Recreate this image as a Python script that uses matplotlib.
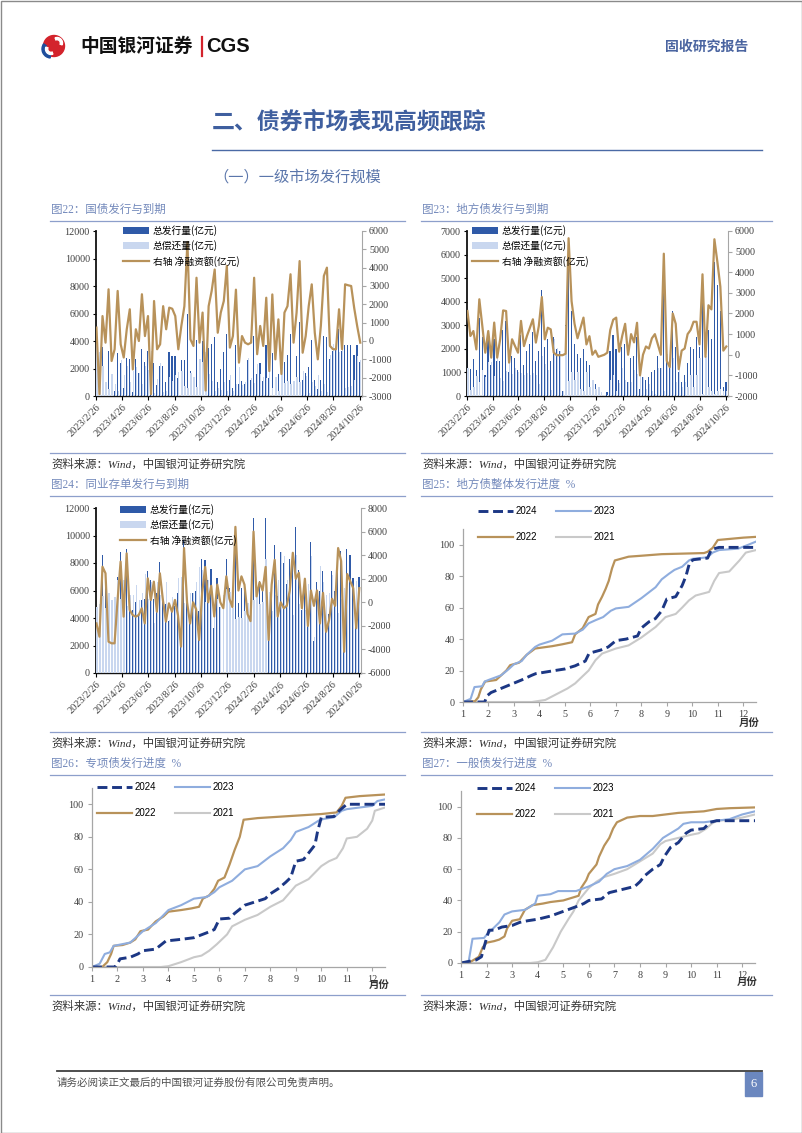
import matplotlib
matplotlib.use("Agg")
import pandas as pd
import matplotlib.pyplot as plt
from matplotlib.patches import Rectangle, Circle, Wedge

W, H = 802, 1133
CJK = ["Noto Sans CJK SC", "DejaVu Sans"]
SERIF = ["Liberation Serif", "Noto Sans CJK SC", "DejaVu Sans"]
SANS = ["Liberation Sans", "Noto Sans CJK SC"]

plt.rcParams["font.family"] = SERIF
plt.rcParams["axes.unicode_minus"] = False

BLUE_DARK = "#2f5aa8"
BLUE_LIGHT = "#c9d7ef"
GOLD = "#b8925a"
NAVY = "#1c3784"
SKY = "#8fadde"
GREY = "#c9c9c9"
TITLE_C = "#7389bb"
RULE_C = "#8d9fcb"
AXIS_C = "#404040"

# ---- 周度数据 (2023/2/26 起, 每周一个点) ----
START = "2023-02-26"
TICK_DATES = ["2023/2/26", "2023/4/26", "2023/6/26", "2023/8/26", "2023/10/26",
              "2023/12/26", "2024/2/26", "2024/4/26", "2024/6/26", "2024/8/26",
              "2024/10/26"]

# 图22 国债
ISS22 = [4900, 300, 3600, 900, 3300, 500, 400, 3100, 2400, 600,
         2800, 2700, 300, 2700, 1700, 3400, 2500, 3300, 400, 2400,
         800, 2200, 2200, 1000, 3200, 2900, 2900, 1300, 2600, 2600,
         6000, 1800, 1100, 4100, 2600, 4000, 500, 3500, 3800, 4300,
         1000, 2000, 3200, 4500, 1200, 600, 3700, 900, 1100, 900,
         2600, 1200, 4400, 1600, 2400, 1100, 3700, 1300, 3100, 400,
         1600, 300, 2500, 3000, 4500, 1000, 2900, 5400, 1200, 1700,
         2100, 4100, 1200, 500, 1200, 4400, 4300, 2700, 3300, 3400,
         4900, 3300, 3700, 3700, 3700, 3000, 3700, 2500]
REP22 = [4100, 3200, 2200, 1000, 500, 1600, 900, 400, 2600, 1500,
         2200, 1000, 1800, 2100, 1700, 850, 2200, 1900, 3300, 200,
         1250, 2400, 300, 400, 1400, 1100, 1500, 1750, 1800, 700,
         600, 1700, 1400, 650, 2700, 2450, 3200, 1600, 1100, 400,
         550, 450, 1000, 400, 1560, 330, 900, 2100, 830, 990,
         2780, 1290, 950, 2300, 1600, 1400, 1300, 2900, 600, 1400,
         400, 2100, 950, 1100, 860, 1090, 1350, 1040, 1840, 1430,
         200, 1000, 750, 1500, 380, 850, 300, 2970, 3750, 3850,
         3170, 3750, 610, 660, 700, 1200, 2900, 2590]
NET22 = [730, -2900, 1360, -90, 2820, -1090, -450, 2730, -180, -900,
         640, 1730, -1550, 640, 0, 2550, 270, 1360, -2900, 2180,
         -450, -180, 1900, 640, 1820, 1760, 1360, -450, 820, 1900,
         5400, 90, -270, 3450, -90, 1550, -2700, 1900, 2730, 3900,
         450, 1550, 2180, 4100, -360, 270, 2800, -1180, 270, -90,
         -180, -90, 3450, -720, 820, -270, 2360, -1640, 2540, -1000,
         1180, -1800, 1550, 1900, 3640, -90, 1550, 4360, -640, 270,
         1900, 3090, 450, -1000, 820, 3550, 4000, -270, -450, -450,
         1730, -450, 3090, 3040, 3000, 1800, 800, -90]

# 图23 地方债
ISS23 = [3300, 1150, 1550, 1100, 3300, 2500, 900, 2600, 1300, 2400,
         1500, 1500, 2800, 3200, 1000, 1700, 1600, 1100, 2600, 1300,
         1900, 2200, 2700, 1500, 1900, 4500, 2100, 2400, 1500, 2500,
         2000, 1900, 200, 3000, 6300, 3600, 2200, 1800, 1600, 2000,
         1500, 1300, 700, 500, 300, 100, 50, 150, 1900, 2600,
         2000, 700, 2100, 2200, 600, 1600, 1700, 2500, 300, 800,
         700, 800, 1000, 1100, 1700, 1200, 5000, 1500, 1200, 3600,
         2100, 1000, 600, 900, 1400, 2100, 2000, 2500, 2100, 4000,
         1600, 2800, 2400, 5700, 4700, 3600, 400, 600]
REP23 = [1180, 240, 400, 840, 610, 1100, 800, 1450, 1440, 840,
         1640, 750, 650, 1080, 1380, 950, 1180, 1000, 960, 880,
         990, 890, 980, 910, 500, 1700, 1350, 1090, 270, 2400,
         2020, 1920, 220, 2950, 650, 1000, 700, 1000, 300, 200,
         1000, 400, 700, 300, 400, 150, 50, 50, 700, 900,
         200, 550, 1200, 700, 600, 600, 1100, 950, 1300, 800,
         300, 500, 200, 100, 1200, 1200, 200, 1800, 1800, 1600,
         600, 1700, 400, 600, 400, 900, 400, 900, 1600, 100,
         1700, 400, 200, 100, 200, 300, 200, 200]
NET23 = [2120, 910, 1150, 260, 2690, 1400, 100, 1150, -140, 1560,
         -140, 750, 2150, 2120, -380, 750, 420, 100, 1640, 420,
         910, 1310, 1720, 590, 1400, 2800, 750, 1310, 1230, 100,
         -20, -20, -20, 50, 5650, 2600, 1500, 800, 1300, 1800,
         500, 900, 0, 200, -100, -50, 0, 100, 1200, 1700,
         1800, 150, 900, 1500, 0, 1000, 600, 1550, -1000, 0,
         400, 300, 800, 1000, 500, 0, 4900, -300, -600, 2000,
         1500, -700, 200, 300, 1000, 1200, 1600, 1600, 500, 3900,
         -100, 2400, 2200, 5600, 4500, 3300, 200, 400]

# 图24 同业存单
ISS24 = [3000, 2100, 8600, 7200, 2500, 1800, 2000, 7000, 8800, 5600,
         9000, 5000, 4600, 5200, 4200, 5300, 5400, 7400, 6800, 5400,
         5800, 8100, 5600, 5000, 3800, 4700, 4900, 5800, 3200, 9700,
         5300, 4000, 5800, 6000, 4500, 8300, 8200, 6800, 7600, 3300,
         6900, 4800, 5200, 8300, 6200, 4300, 10300, 5100, 6200, 6000,
         4100, 3000, 11300, 6300, 6700, 6200, 11300, 2700, 6000, 9300,
         5600, 8800, 8000, 6500, 8300, 8400, 10600, 7500, 4600, 6600,
         4500, 9500, 2300, 6600, 6000, 7400, 3200, 4300, 7400, 6000,
         9000, 8900, 2000, 9000, 8600, 6900, 4500, 7000]
REP24 = [4800, 5000, 5600, 4700, 5800, 5300, 5500, 6800, 5350, 6800,
         4850, 5650, 5680, 6420, 5280, 5810, 7190, 5370, 6600, 3650,
         6600, 5640, 5400, 6640, 3890, 5500, 4700, 6900, 6960, 5100,
         5300, 5800, 5800, 6600, 7700, 7500, 5200, 6800, 6200, 4500,
         5400, 4800, 5700, 6100, 5900, 4700, 3900, 4100, 4000, 4500,
         5100, 4600, 5300, 5800, 5000, 5200, 8300, 5900, 4500, 5700,
         6800, 8800, 8500, 6800, 7300, 4200, 8600, 5000, 5100, 4600,
         6500, 8500, 2600, 5600, 7800, 6600, 5700, 5800, 7100, 6300,
         4400, 5400, 6200, 6600, 6800, 5700, 6700, 5800]
NET24 = [-1790, -2920, 3020, 2460, -3340, -3480, -3480, 200, 3450, -1220,
         4150, -650, -1080, -1220, -1080, -510, -1790, 2030, 200, 1750,
         -800, 2460, 200, -1640, -90, -800, 200, -1100, -3760, 4600,
         0, -1800, 0, -600, -3200, 800, 3000, 0, 1400, -1200,
         1500, 0, -500, 2200, 300, -400, 6400, 1000, 2200, 1500,
         -1000, -1600, 6000, 500, 1700, 1000, 3000, -3200, 1500, 3600,
         -1200, 0, -500, -300, 1000, 4200, 2000, 2500, -500, 2000,
         -2000, 1000, -300, 1000, -1800, 800, -2500, -1500, 300, -300,
         4600, 3500, -4200, 2400, 1800, 1200, -2200, 1200]

# ---- 发行进度 (%), 横轴为月份 ----
MONTHS = list(range(1, 13))

X25_2024 = [1, 1.85, 1.95, 2.1, 2.4, 2.7, 3.0, 3.3, 3.7, 3.85, 4.6, 5.0, 5.4, 5.8, 5.95, 6.4, 6.7, 7.0, 7.4, 7.85, 8.0, 8.3, 8.55, 8.8, 9.0, 9.35, 9.6, 9.75, 9.9, 10.05, 10.6, 10.75, 11.05, 12.5]
Y25_2024 = [0, 0, 4, 6, 8, 10, 12, 14, 17, 18, 20, 21, 23, 26, 31, 33, 35, 39, 40, 42, 47, 51, 53, 58, 65.5, 67, 74, 80, 89, 90.5, 91.5, 97, 98.3, 98.3]
X25_2023 = [1, 1.3, 1.45, 1.75, 1.85, 2.0, 2.5, 2.8, 3.0, 3.3, 3.5, 3.83, 4.0, 4.5, 4.9, 5.4, 5.7, 5.93, 6.2, 6.5, 6.8, 7.0, 7.5, 8.0, 8.56, 8.8, 9.08, 9.3, 9.6, 9.87, 10.0, 10.6, 10.8, 11.05, 11.8, 12.2, 12.5]
Y25_2023 = [0, 2, 9.5, 10, 13, 14, 17, 21, 24, 26, 30, 35, 36.5, 39, 43, 43.5, 46, 50, 52, 54, 58, 59.5, 60.5, 66, 73, 78, 81.5, 84, 86, 90, 91, 92, 95, 96.6, 97.5, 100, 102]
X25_2022 = [1, 1.47, 1.6, 1.7, 1.87, 2.3, 2.5, 2.7, 2.85, 3.2, 3.5, 3.83, 4.5, 4.9, 5.28, 5.4, 5.7, 5.93, 6.2, 6.3, 6.46, 6.6, 6.72, 6.85, 6.96, 7.5, 8.0, 8.8, 10.46, 10.6, 10.8, 11.0, 12.0, 12.5]
Y25_2022 = [0, 0.5, 3, 8, 13, 14, 17, 20, 23.4, 25, 30, 34, 35.5, 36.7, 38, 43, 47, 54, 56, 62, 67, 72, 77, 85, 90, 92.4, 93, 94, 94.7, 95.5, 98, 103, 104.5, 105]
X25_2021 = [1, 3.7, 4.23, 4.6, 5.1, 5.4, 5.67, 5.93, 6.2, 6.46, 7.0, 7.5, 8.0, 8.56, 8.95, 9.35, 9.6, 9.87, 10.13, 10.66, 10.86, 11.05, 11.45, 11.85, 12.1, 12.5]
Y25_2021 = [0, 0, 1.3, 4.4, 8.6, 11.8, 16, 20, 26.6, 30.8, 34, 36, 41, 47.7, 54, 56, 60, 64.6, 67.7, 70, 77, 82, 83, 90, 95, 96.6]

X26_2024 = [1, 1.9, 2.0, 2.1, 2.5, 2.8, 3.0, 3.5, 3.9, 4.5, 5.0, 5.5, 5.8, 6.0, 6.4, 6.6, 7.0, 7.4, 7.8, 8.0, 8.3, 8.6, 8.8, 9.0, 9.3, 9.5, 9.75, 9.85, 10.0, 10.5, 10.7, 11.0, 12.5]
Y26_2024 = [0, 0, 2, 5, 6, 8, 10, 11, 16, 17, 18, 21, 23, 29.5, 30, 33, 38, 40, 42, 45, 48, 52, 55, 65, 66, 70, 75, 83, 92, 92.5, 96, 100, 100]
X26_2023 = [1, 1.3, 1.5, 1.7, 1.85, 2.5, 3.0, 3.5, 4.0, 4.5, 5.0, 5.5, 5.8, 6.0, 6.5, 7.0, 7.5, 8.0, 8.5, 8.8, 9.0, 9.5, 9.9, 10.1, 10.5, 10.8, 11.0, 11.5, 12.0, 12.2, 12.5]
Y26_2023 = [0, 2, 8, 9, 13, 15, 22, 27, 35, 38, 42, 43, 46, 49, 53, 60, 62, 68, 73, 78, 83, 86, 90, 91, 92, 96, 97, 98, 99, 102, 103]
X26_2022 = [1, 1.4, 1.6, 1.75, 1.85, 2.2, 2.5, 2.7, 2.9, 3.2, 3.5, 3.8, 4.0, 4.5, 4.9, 5.2, 5.35, 5.6, 5.8, 5.95, 6.2, 6.4, 6.6, 6.8, 6.95, 7.5, 8.0, 8.5, 9.0, 10.0, 10.6, 10.8, 10.95, 11.5, 12.0, 12.5]
Y26_2022 = [0, 0, 3, 8, 13, 13.5, 15, 17, 22, 23, 28, 31, 34, 35, 36, 37, 42, 44, 48, 53, 55, 63, 72, 80, 90.5, 91.5, 92, 92.5, 93, 94, 95, 99, 104, 105, 105.5, 106]
X26_2021 = [1, 3.7, 4.0, 4.5, 5.0, 5.3, 5.6, 5.9, 6.1, 6.3, 6.5, 7.0, 7.5, 8.0, 8.5, 9.0, 9.5, 10.0, 10.3, 10.6, 10.85, 11.0, 11.4, 11.8, 12.0, 12.1, 12.5]
Y26_2021 = [0, 0, 0.5, 3, 6, 7, 10, 14, 17, 20, 25, 29, 32, 37, 41, 50, 54, 62, 65, 67, 73, 79, 80, 85, 90, 96, 98]

X27_2024 = [1, 1.6, 1.8, 1.9, 2.0, 2.1, 2.3, 2.6, 3.0, 3.3, 3.6, 4.0, 4.5, 5.0, 5.5, 5.8, 6.0, 6.5, 6.8, 7.3, 7.8, 8.0, 8.2, 8.5, 8.8, 8.95, 9.2, 9.5, 9.8, 10.0, 10.5, 10.75, 11.0, 12.5]
Y27_2024 = [0, 2, 4, 10, 16, 21, 21, 23, 24, 26, 27, 28, 30, 33, 36, 38, 40, 41, 45, 47, 49, 52, 56, 60, 63, 68, 74, 77, 83, 85, 86, 90, 91, 91]
X27_2023 = [1, 1.3, 1.45, 1.9, 2.0, 2.5, 2.7, 3.0, 3.5, 3.9, 4.0, 4.5, 4.8, 5.5, 6.0, 6.4, 6.7, 7.0, 7.5, 8.0, 8.5, 8.9, 9.2, 9.5, 9.7, 10.0, 10.5, 11.0, 11.5, 12.0, 12.5]
Y27_2023 = [0, 1, 15.5, 16, 18, 26, 31, 33, 34, 38, 43, 44, 46, 46, 49, 52, 57, 60, 62, 66, 73, 80, 83, 86, 89, 90, 90, 91, 92, 95, 97]
X27_2022 = [1, 1.4, 1.7, 1.85, 2.0, 2.3, 2.5, 2.7, 2.8, 3.0, 3.3, 3.5, 3.8, 4.2, 4.5, 5.0, 5.4, 5.6, 5.7, 5.9, 6.0, 6.3, 6.4, 6.6, 6.8, 6.95, 7.1, 7.5, 8.0, 8.5, 9.0, 9.5, 10.0, 10.5, 11.0, 11.5, 12.5]
Y27_2022 = [0, 1, 4, 10, 13, 14, 15, 17, 22, 27, 28, 34, 37, 38, 39, 40, 42, 43, 48, 53, 57, 63, 68, 75, 80, 86, 90, 93, 94, 94, 95, 96, 96.5, 97, 98.5, 99, 99.5]
X27_2021 = [1, 3.7, 4.0, 4.3, 4.6, 4.9, 5.2, 5.4, 5.6, 5.8, 6.0, 6.3, 6.6, 7.0, 7.5, 8.0, 8.5, 8.8, 9.0, 9.5, 10.0, 10.3, 10.6, 10.8, 11.0, 11.5, 12.0, 12.5]
Y27_2021 = [0, 0, 0.5, 2, 10, 20, 28, 33, 40, 44, 48, 52, 55, 57, 60, 65, 70, 76, 78, 80, 82, 83, 86, 89, 91, 91.5, 93, 95]


fig = plt.figure(figsize=(W / 100, H / 100), dpi=100)
page = fig.add_axes([0, 0, 1, 1])
page.set_xlim(0, W)
page.set_ylim(H, 0)
page.axis("off")


def px_box(x0, y0, x1, y1):
    return [x0 / W, 1 - y1 / H, (x1 - x0) / W, (y1 - y0) / H]


def draw_bars(box, iss, rep, net, lmax, lstep, rlim, rstep, leg_xy):
    ax = fig.add_axes(px_box(*box))
    ax.set_facecolor("none")
    dates = pd.date_range(START, periods=len(net), freq="7D")
    # 偿还量柱与发行量柱部分重叠, 浅色在上
    ax.bar(dates - pd.Timedelta(hours=14), iss, width=2.6, color=BLUE_DARK,
           label="总发行量(亿元)", zorder=2, linewidth=0)
    ax.bar(dates + pd.Timedelta(hours=29), rep, width=3.0, color=BLUE_LIGHT,
           label="总偿还量(亿元)", zorder=3, linewidth=0)
    ax.set_ylim(0, lmax)
    ax.set_yticks(range(0, lmax + 1, lstep))
    ax.set_xlim(pd.Timestamp("2023-02-25"), pd.Timestamp("2024-10-31"))
    ax.set_xticks(pd.to_datetime(TICK_DATES, format="%Y/%m/%d"))
    ax.set_xticklabels(TICK_DATES, rotation=45, ha="right", va="top",
                       rotation_mode="anchor")
    for s in ["top", "right"]:
        ax.spines[s].set_visible(False)
    ax.spines["left"].set_linewidth(1.3)
    ax.spines["left"].set_color("#111111")
    ax.spines["bottom"].set_linewidth(1.0)
    ax.spines["bottom"].set_color("#111111")
    ax.tick_params(axis="y", labelsize=7.3, labelcolor=AXIS_C, length=2.5, width=0.8, pad=2)
    ax.tick_params(axis="x", labelsize=7.4, labelcolor=AXIS_C, length=3, width=0.8, pad=2)

    ax2 = ax.twinx()
    ax2.plot(dates, net, color=GOLD, lw=1.6, label="右轴 净融资额(亿元)", zorder=4)
    ax2.set_ylim(*rlim)
    ax2.set_yticks(range(rlim[0], rlim[1] + 1, rstep))
    for s in ["top", "left", "bottom"]:
        ax2.spines[s].set_visible(False)
    ax2.spines["right"].set_color("#a6a6a6")
    ax2.spines["right"].set_linewidth(0.8)
    ax2.tick_params(axis="y", labelsize=7.3, colors="#a6a6a6",
                    length=3, width=0.8, pad=2)
    for lab in ax2.get_yticklabels():
        lab.set_color(AXIS_C)

    h1, l1 = ax.get_legend_handles_labels()
    h2, l2 = ax2.get_legend_handles_labels()
    ax2.legend(h1 + h2, l1 + l2, loc="upper left", bbox_to_anchor=leg_xy,
               bbox_transform=page.transData, frameon=False,
               prop={"family": CJK, "size": 7}, handlelength=2.7,
               handleheight=0.8, labelspacing=0.45, handletextpad=0.35,
               borderpad=0, borderaxespad=0)


def draw_lines(box, series, leg_xy, unit_xy):
    ax = fig.add_axes(px_box(*box))
    ax.set_facecolor("none")
    handles = {}
    for xs, ys, color, ls, lw, label in series:
        (h,) = ax.plot(xs, ys, color=color, ls=ls, lw=lw, label=label)
        handles[label] = h
    ax.set_xlim(1, 12.5)
    ax.set_ylim(0, 110)
    ax.set_xticks(MONTHS)
    ax.set_yticks(range(0, 101, 20))
    for s in ["top", "right"]:
        ax.spines[s].set_visible(False)
    for s in ["left", "bottom"]:
        ax.spines[s].set_color("#a6a6a6")
        ax.spines[s].set_linewidth(0.9)
    ax.tick_params(axis="both", labelsize=7.3, colors="#a6a6a6",
                   length=3, width=0.8, pad=3)
    for lab in ax.get_xticklabels() + ax.get_yticklabels():
        lab.set_color(AXIS_C)
    order = ["2024", "2022", "2023", "2021"]
    ax.legend([handles[k] for k in order], order, ncol=2, loc="upper left",
              bbox_to_anchor=leg_xy, bbox_transform=page.transData,
              frameon=False, prop={"family": SANS, "size": 7},
              handlelength=3.6, labelspacing=1.65, columnspacing=1.9,
              handletextpad=0.3, borderpad=0, borderaxespad=0)
    page.text(unit_xy[0], unit_xy[1], "月份", family=CJK, size=7.5,
              weight="bold", color="#333333", ha="right", va="center",
              bbox=dict(facecolor="white", edgecolor="none", pad=0.3), zorder=10)


def prog_series(x24, y24, x23, y23, x22, y22, x21, y21):
    return [
        (x21, y21, GREY, "-", 1.5, "2021"),
        (x22, y22, GOLD, "-", 1.6, "2022"),
        (x23, y23, SKY, "-", 1.5, "2023"),
        (x24, y24, NAVY, (0, (3.4, 1.6)), 2.1, "2024"),
    ]


# ---- 页眉 ----
page.add_patch(Rectangle((0.5, 0.5), W - 1, H - 1, fill=False, ec="#8a8a8a", lw=1.0))
page.add_patch(Circle((54, 46), 10.5, color="#d3232c"))
page.add_patch(Wedge((51, 49), 9, 95, 215, width=3.2, color="#1f4e9c"))
page.add_patch(Wedge((57, 43), 5.5, 250, 20, width=2.2, color="white"))
page.add_patch(Wedge((51, 49), 5.5, 70, 200, width=2.2, color="white"))
page.text(80, 46, "中国银河证券", family=CJK, size=13.5, weight="bold",
          color="#111111", va="center", ha="left")
page.plot([202, 202], [37, 56], color="#d3232c", lw=1.6)
page.text(206, 46, "CGS", family=SANS, size=14.5, weight="bold",
          color="#111111", va="center", ha="left")
page.text(748, 47, "固收研究报告", family=CJK, size=10, weight="bold",
          color="#4a64a0", va="center", ha="right")

page.text(212, 122, "二、债券市场表现高频跟踪", family=CJK, size=16.5,
          weight="bold", color="#3f5f9f", va="center", ha="left")
page.plot([212, 762], [150, 150], color="#4a6aa5", lw=1.0)
page.text(213, 177, "（一）一级市场发行规模", family=CJK, size=11,
          color="#5b76ab", va="center", ha="left")

# ---- 图表标题和来源 ----
TITLES = [
    (51, 210, "图22：国债发行与到期"),
    (422, 210, "图23：地方债发行与到期"),
    (51, 485, "图24：同业存单发行与到期"),
    (422, 485, "图25：地方债整体发行进度  %"),
    (51, 764, "图26：专项债发行进度  %"),
    (422, 764, "图27：一般债发行进度  %"),
]
for x, y, t in TITLES:
    page.text(x, y, t, size=8.3, color=TITLE_C, va="center", ha="left")
    x1 = 405 if x < 300 else 772
    page.plot([x - 1, x1], [y + 11, y + 11], color=RULE_C, lw=0.9)

SOURCES = [(51, 453), (422, 453), (51, 732), (422, 732), (51, 995), (422, 995)]
for x, y in SOURCES:
    x1 = 405 if x < 300 else 772
    page.plot([x - 1, x1], [y, y], color=RULE_C, lw=0.9)
    page.text(x, y + 11, "资料来源：Wind，中国银河证券研究院", size=8.2,
              style="italic", color="#333333", va="center", ha="left")

# ---- 柱状图 ----
draw_bars((96, 231, 362, 396), ISS22, REP22, NET22, 12000, 2000,
          (-3000, 6000), 1000, (123, 225))
draw_bars((467, 231, 728, 396), ISS23, REP23, NET23, 7000, 1000,
          (-2000, 6000), 1000, (472, 225))
draw_bars((96, 508, 361, 673), ISS24, REP24, NET24, 12000, 2000,
          (-6000, 8000), 2000, (120, 504))

# ---- 进度图 ----
draw_lines((463, 529, 756, 702),
           prog_series(X25_2024, Y25_2024, X25_2023, Y25_2023,
                       X25_2022, Y25_2022, X25_2021, Y25_2021),
           (478, 506), (760, 723))
draw_lines((92, 788, 385, 967),
           prog_series(X26_2024, Y26_2024, X26_2023, Y26_2023,
                       X26_2022, Y26_2022, X26_2021, Y26_2021),
           (97, 782), (390, 985))
draw_lines((461, 791, 755, 963),
           prog_series(X27_2024, Y27_2024, X27_2023, Y27_2023,
                       X27_2022, Y27_2022, X27_2021, Y27_2021),
           (477, 783), (758, 982))

# ---- 页脚 ----
page.plot([57, 762], [1071, 1071], color="#404040", lw=1.3)
page.text(57, 1083, "请务必阅读正文最后的中国银河证券股份有限公司免责声明。",
          family=CJK, size=7.6, color="#505050", va="center", ha="left")
page.add_patch(Rectangle((745, 1072), 17, 24, color="#6b87bf"))
page.text(753.5, 1084, "6", size=9, color="white", va="center", ha="center")

fig.savefig("out.png", dpi=100)
